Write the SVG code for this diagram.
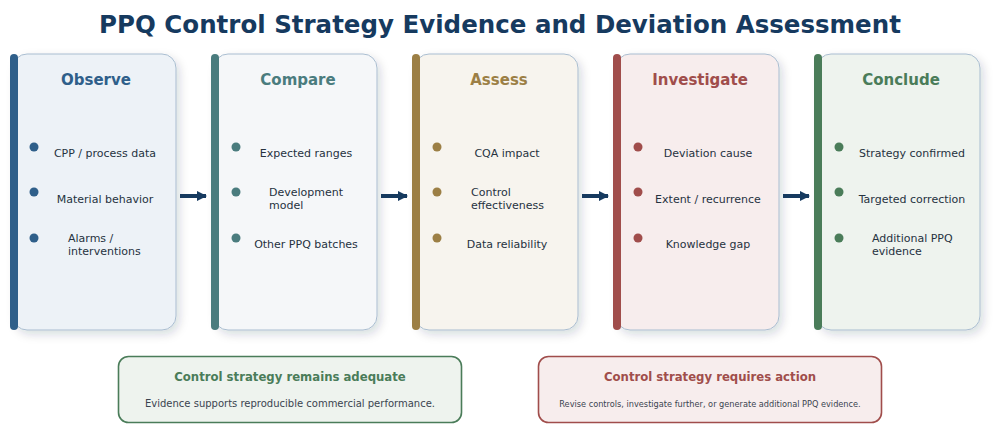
<svg xmlns="http://www.w3.org/2000/svg" width="1000" height="434" viewBox="0 0 1000 434">
<defs>
<filter id="sh" x="-20%" y="-20%" width="150%" height="150%">
<feDropShadow dx="3" dy="4" stdDeviation="5" flood-color="#1a2a3a" flood-opacity="0.16"/>
</filter>
<marker id="ah" viewBox="0 0 10 10" refX="9" refY="5" markerWidth="2.6" markerHeight="2.6" orient="auto" markerUnits="strokeWidth">
<path d="M0,0 L10,5 L0,10 z" fill="#163a5f"/>
</marker>
<style>
text{font-family:"DejaVu Sans","Liberation Sans",sans-serif}
.title{font-size:24.5px;font-weight:bold;fill:#163a5f;text-anchor:middle}
.card{stroke:#a9bdd0;stroke-width:1}
.hdr{font-size:15px;font-weight:bold;text-anchor:middle}
.it{font-size:11px;fill:#26323f}
.mid{text-anchor:middle}
.conn{stroke:#163a5f;stroke-width:4;fill:none}
.bt{font-size:11.7px;font-weight:bold;text-anchor:middle}
.bs{font-size:10px;fill:#3b4450;text-anchor:middle}
</style>
</defs>
<rect width="1000" height="434" fill="#ffffff"/>
<text class="title" x="500" y="33">PPQ Control Strategy Evidence and Deviation Assessment</text>

<g id="observe">
<rect class="card" x="13" y="54" width="163" height="276" rx="14" fill="#edf2f7" filter="url(#sh)"/>
<rect x="10" y="54" width="8" height="276" rx="4" fill="#2f5f8a"/>
<text class="hdr" x="96" y="85" fill="#2f5f8a">Observe</text>
<circle cx="34" cy="147" r="4.5" fill="#2f5f8a"/>
<circle cx="34" cy="192" r="4.5" fill="#2f5f8a"/>
<circle cx="34" cy="238" r="4.5" fill="#2f5f8a"/>
<text class="it mid" x="105" y="157">CPP / process data</text>
<text class="it mid" x="105" y="203">Material behavior</text>
<text class="it" x="68" y="242">Alarms /</text>
<text class="it" x="68" y="255">interventions</text>
</g>

<g id="compare">
<rect class="card" x="214" y="54" width="163" height="276" rx="14" fill="#f5f7f9" filter="url(#sh)"/>
<rect x="211" y="54" width="8" height="276" rx="4" fill="#4a7c7e"/>
<text class="hdr" x="298" y="85" fill="#4a7c7e">Compare</text>
<circle cx="236" cy="147" r="4.5" fill="#4a7c7e"/>
<circle cx="236" cy="192" r="4.5" fill="#4a7c7e"/>
<circle cx="236" cy="238" r="4.5" fill="#4a7c7e"/>
<text class="it mid" x="306" y="157">Expected ranges</text>
<text class="it" x="269" y="196">Development</text>
<text class="it" x="269" y="209">model</text>
<text class="it mid" x="306" y="248">Other PPQ batches</text>
</g>

<g id="assess">
<rect class="card" x="415" y="54" width="163" height="276" rx="14" fill="#f7f4ee" filter="url(#sh)"/>
<rect x="412" y="54" width="8" height="276" rx="4" fill="#9c7f45"/>
<text class="hdr" x="499" y="85" fill="#9c7f45">Assess</text>
<circle cx="437" cy="147" r="4.5" fill="#9c7f45"/>
<circle cx="437" cy="192" r="4.5" fill="#9c7f45"/>
<circle cx="437" cy="238" r="4.5" fill="#9c7f45"/>
<text class="it mid" x="507" y="157">CQA impact</text>
<text class="it" x="471" y="196">Control</text>
<text class="it" x="471" y="209">effectiveness</text>
<text class="it mid" x="507" y="248">Data reliability</text>
</g>

<g id="investigate">
<rect class="card" x="616" y="54" width="163" height="276" rx="14" fill="#f7eded" filter="url(#sh)"/>
<rect x="613" y="54" width="8" height="276" rx="4" fill="#a04d4b"/>
<text class="hdr" x="700" y="85" fill="#a04d4b">Investigate</text>
<circle cx="638" cy="147" r="4.5" fill="#a04d4b"/>
<circle cx="638" cy="192" r="4.5" fill="#a04d4b"/>
<circle cx="638" cy="238" r="4.5" fill="#a04d4b"/>
<text class="it mid" x="708" y="157">Deviation cause</text>
<text class="it mid" x="708" y="203">Extent / recurrence</text>
<text class="it mid" x="708" y="248">Knowledge gap</text>
</g>

<g id="conclude">
<rect class="card" x="817" y="54" width="163" height="276" rx="14" fill="#eef3ee" filter="url(#sh)"/>
<rect x="814" y="54" width="8" height="276" rx="4" fill="#4a7c59"/>
<text class="hdr" x="901" y="85" fill="#4a7c59">Conclude</text>
<circle cx="839" cy="147" r="4.5" fill="#4a7c59"/>
<circle cx="839" cy="192" r="4.5" fill="#4a7c59"/>
<circle cx="839" cy="238" r="4.5" fill="#4a7c59"/>
<text class="it mid" x="912" y="157">Strategy confirmed</text>
<text class="it mid" x="912" y="203">Targeted correction</text>
<text class="it" x="872" y="242">Additional PPQ</text>
<text class="it" x="872" y="255">evidence</text>
</g>

<g id="connectors">
<line class="conn" x1="180" y1="196" x2="206" y2="196" marker-end="url(#ah)"/>
<line class="conn" x1="381" y1="196" x2="407" y2="196" marker-end="url(#ah)"/>
<line class="conn" x1="582" y1="196" x2="608" y2="196" marker-end="url(#ah)"/>
<line class="conn" x1="783" y1="196" x2="809" y2="196" marker-end="url(#ah)"/>
</g>

<g id="adequate">
<rect x="118.5" y="356.5" width="343" height="66" rx="10" fill="#eef3ee" stroke="#4a7c59" stroke-width="1.6"/>
<text class="bt" x="290" y="381" fill="#4a7c59">Control strategy remains adequate</text>
<text class="bs" x="290" y="407">Evidence supports reproducible commercial performance.</text>
</g>

<g id="action">
<rect x="538.5" y="356.5" width="343" height="66" rx="10" fill="#f7eded" stroke="#a04d4b" stroke-width="1.6"/>
<text class="bt" x="710" y="381" fill="#a04d4b">Control strategy requires action</text>
<text class="bs" x="710" y="407" style="font-size:8.2px">Revise controls, investigate further, or generate additional PPQ evidence.</text>
</g>
</svg>
